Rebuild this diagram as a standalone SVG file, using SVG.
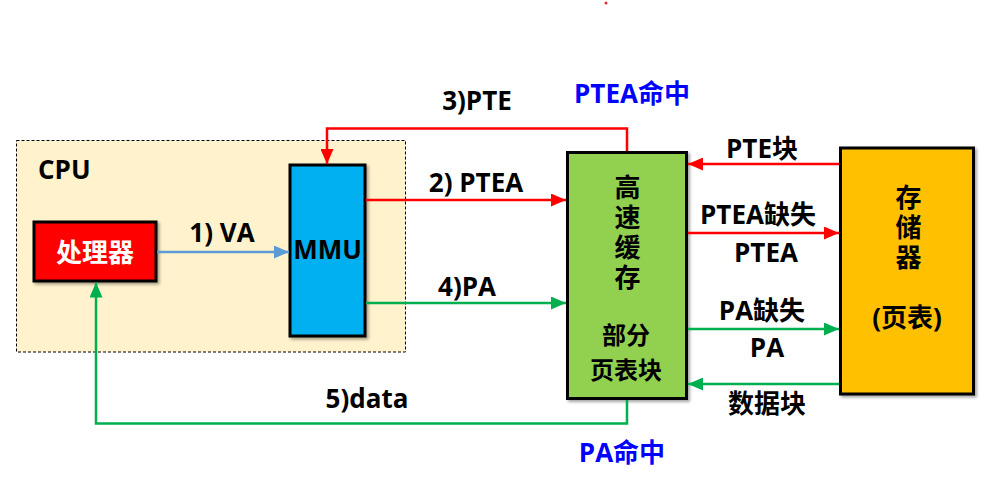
<svg xmlns="http://www.w3.org/2000/svg" width="986" height="477" viewBox="0 0 986 477">
<style>
text{font-family:"Open Sans","Noto Sans CJK SC",sans-serif;font-weight:bold;font-size:26px;fill:#000}
.c{text-anchor:middle}
.s{font-size:24px}
.v{writing-mode:vertical-rl;letter-spacing:4px}
.blue{fill:#0000FF}
.white{fill:#FFFFFF}
.box{stroke:#000;stroke-width:3;filter:url(#sh)}
.ln{fill:none;stroke-width:2.5}
.red{stroke:#FF0000}
.grn{stroke:#00B050}
.lb{stroke:#5B9BD5}
</style>
<defs>
<filter id="sh" x="-10%" y="-10%" width="130%" height="130%">
<feDropShadow dx="2" dy="2" stdDeviation="1.5" flood-color="#000" flood-opacity="0.35"/>
</filter>
<marker id="ar" markerUnits="userSpaceOnUse" markerWidth="15" markerHeight="13" refX="15" refY="6.5" orient="auto"><path d="M0,0 L15,6.5 L0,13 z" fill="#FF0000"/></marker>
<marker id="ag" markerUnits="userSpaceOnUse" markerWidth="15" markerHeight="13" refX="15" refY="6.5" orient="auto"><path d="M0,0 L15,6.5 L0,13 z" fill="#00B050"/></marker>
<marker id="ab" markerUnits="userSpaceOnUse" markerWidth="15" markerHeight="13" refX="15" refY="6.5" orient="auto"><path d="M0,0 L15,6.5 L0,13 z" fill="#5B9BD5"/></marker>
</defs>
<rect width="986" height="477" fill="#FFFFFF"/>
<circle cx="606" cy="3" r="1.5" fill="#E03030"/>
<g id="cpu">
<rect x="16.5" y="140.5" width="389" height="211.5" fill="#FFF2CC" stroke="#000" stroke-width="1" stroke-dasharray="3,2"/>
<text x="38" y="179">CPU</text>
</g>
<g id="processor">
<rect class="box" x="34" y="222" width="122" height="59" fill="#FF0000"/>
<text class="c white" x="95" y="262">处理器</text>
</g>
<g id="mmu">
<rect class="box" x="290" y="165" width="75" height="171" fill="#00B0F0"/>
<text class="c" x="327.5" y="259">MMU</text>
</g>
<g id="cache">
<rect class="box" x="567.5" y="152.5" width="119" height="246" fill="#92D050"/>
<text class="c v" x="626" y="234">高速缓存</text>
<text class="c s" x="626" y="344">部分</text>
<text class="c s" x="626" y="379">页表块</text>
</g>
<g id="memory">
<rect class="box" x="840.5" y="148" width="133" height="246" fill="#FFC000"/>
<text class="c v" x="907" y="229">存储器</text>
<text class="c" x="907" y="327">(页表)</text>
</g>
<g id="connectors">
<path class="ln lb" d="M157,252 H289" marker-end="url(#ab)"/>
<path class="ln red" d="M366,200 H566" marker-end="url(#ar)"/>
<path class="ln red" d="M627,151 V128.5 H327 V164" marker-end="url(#ar)"/>
<path class="ln grn" d="M366,303 H566" marker-end="url(#ag)"/>
<path class="ln grn" d="M627,400 V423.5 H96 V282.5" marker-end="url(#ag)"/>
<path class="ln red" d="M839,164 H688" marker-end="url(#ar)"/>
<path class="ln red" d="M688,233 H839" marker-end="url(#ar)"/>
<path class="ln grn" d="M688,329 H839" marker-end="url(#ag)"/>
<path class="ln grn" d="M839,384 H688" marker-end="url(#ag)"/>
<text class="c" x="222" y="242">1) VA</text>
<text class="c" x="476" y="192">2) PTEA</text>
<text class="c" x="477" y="110">3)PTE</text>
<text class="c blue" x="632" y="103">PTEA命中</text>
<text class="c" x="467" y="296">4)PA</text>
<text class="c" x="367" y="408">5)data</text>
<text class="c blue" x="622" y="462">PA命中</text>
<text class="c" x="762" y="158">PTE块</text>
<text class="c" x="758" y="224">PTEA缺失</text>
<text class="c" x="766" y="262">PTEA</text>
<text class="c" x="762" y="320">PA缺失</text>
<text class="c" x="767" y="357">PA</text>
<text class="c" x="767" y="413">数据块</text>
</g>
</svg>
